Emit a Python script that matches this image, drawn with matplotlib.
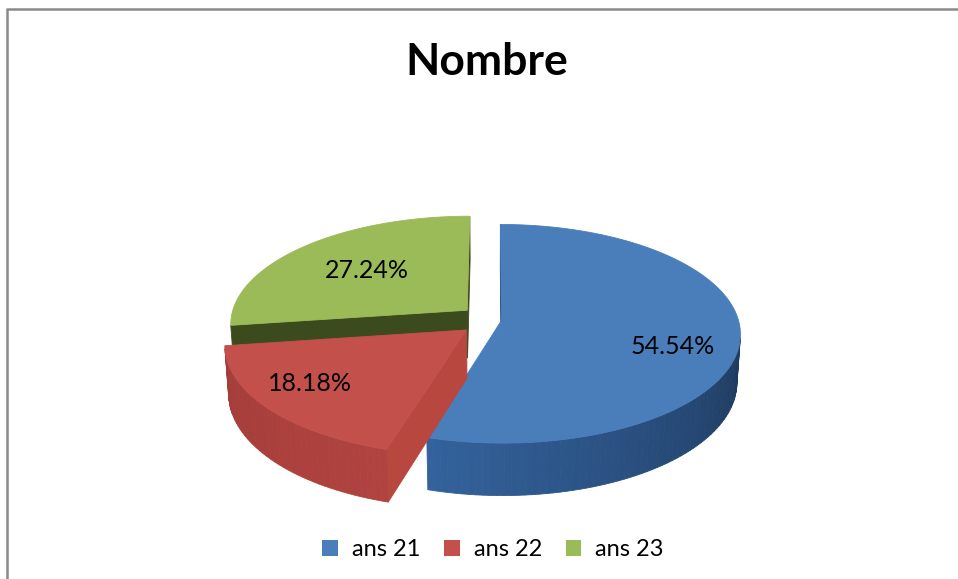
import numpy as np
import matplotlib
matplotlib.use('Agg')
import matplotlib.pyplot as plt
from matplotlib.patches import Polygon, Patch
from matplotlib.colors import to_rgb

title = 'Nombre'
labels = ['ans 21', 'ans 22', 'ans 23']
values = [54.54, 18.18, 27.24]

top_colors = ['#4A7EBB', '#C4504C', '#9BBB59']
side_light = ['#33629C', '#A43C39', '#55692B']
side_dark = ['#1E3A5E', '#B0433F', '#3E4F1F']
cut_colors = ['#28497A', '#B7473F', '#3C4B1E']
explode = [0.04, 0.14, 0.14]
# where the percent labels sit on each top face
label_r = [0.72, 0.8, 0.6]
label_dy = [15, -8, 0]

# fake 3d camera, in pixel units of the 958x579 figure
CX, CY = 492, 320
S = 237
D = 7.4
PHI = np.radians(27)
H = 0.23
FONT = 'Lato'


def proj(X, Y, Z):
    X = np.asarray(X, float)
    Y = np.asarray(Y, float)
    Z = np.asarray(Z, float)
    dist = D + Y * np.cos(PHI) - Z * np.sin(PHI)
    s = D / dist
    return np.column_stack([CX + S * X * s, CY - S * (Y * np.sin(PHI) + Z * np.cos(PHI)) * s])


def area(p):
    x, y = p[:, 0], -p[:, 1]
    return 0.5 * np.sum(x * np.roll(y, -1) - np.roll(x, -1) * y)


def lerp(c1, c2, t):
    a, b = np.array(to_rgb(c1)), np.array(to_rgb(c2))
    return a + (b - a) * t


fig = plt.figure(figsize=(9.58, 5.79), dpi=100)
ax = fig.add_axes([0, 0, 1, 1])
ax.set_xlim(0, 958)
ax.set_ylim(579, 0)
ax.axis('off')

total = sum(values)
cum = np.concatenate([[0], np.cumsum(values)])
slices = []
for i, v in enumerate(values):
    a1 = np.radians(90 - cum[i] / total * 360)
    a0 = np.radians(90 - cum[i + 1] / total * 360)
    mid = (a0 + a1) / 2
    slices.append((i, a0, a1, mid))

# back slices first
slices.sort(key=lambda s: -np.sin(s[3]))

for i, a0, a1, mid in slices:
    ox, oy = explode[i] * np.cos(mid), explode[i] * np.sin(mid)
    n = max(int(np.degrees(a1 - a0) / 1.5), 4)
    th = np.linspace(a0, a1, n)
    ex, ey = ox + np.cos(th), oy + np.sin(th)

    # radial cut faces
    f1 = proj([ox, ox + np.cos(a1), ox + np.cos(a1), ox],
              [oy, oy + np.sin(a1), oy + np.sin(a1), oy], [0, 0, -H, -H])
    f0 = proj([ox, ox, ox + np.cos(a0), ox + np.cos(a0)],
              [oy, oy, oy + np.sin(a0), oy + np.sin(a0)], [0, -H, -H, 0])
    for f in (f0, f1):
        if area(f) > 0:
            ax.add_patch(Polygon(f, closed=True, fc=cut_colors[i], ec=cut_colors[i], lw=0.6))

    # outer wall, drawn in strips for the shading
    strips = []
    for k in range(n - 1):
        q = proj([ex[k], ex[k], ex[k + 1], ex[k + 1]],
                 [ey[k], ey[k], ey[k + 1], ey[k + 1]], [0, -H, -H, 0])
        if area(q) > 0:
            strips.append(q)
    for k, q in enumerate(strips):
        t = k / max(len(strips) - 1, 1)
        c = lerp(side_light[i], side_dark[i], t)
        ax.add_patch(Polygon(q, closed=True, fc=c, ec=c, lw=0.6))

    top = proj(np.r_[ox, ex], np.r_[oy, ey], np.zeros(n + 1))
    ax.add_patch(Polygon(top, closed=True, fc=top_colors[i], ec=top_colors[i], lw=0.6))

    r = label_r[i]
    lp = proj([ox + r * np.cos(mid)], [oy + r * np.sin(mid)], [0])[0]
    ax.text(lp[0], lp[1] + label_dy[i], f'{values[i]:.2f}%', ha='center', va='center',
            fontsize=18, family=FONT, color='black')

ax.text(487, 75, title, ha='center', va='baseline', fontsize=32,
        fontweight='bold', family=FONT)

# chart frame
ax.plot([6, 958], [9, 9], color='#8a8a8a', lw=1.8, solid_capstyle='butt')
ax.plot([7.5, 7.5], [9, 579], color='#8a8a8a', lw=1.8, solid_capstyle='butt')

handles = [Patch(facecolor=c, edgecolor='none') for c in top_colors]
fig.legend(handles, labels, loc='center', bbox_to_anchor=(493 / 958, 1 - 550 / 579),
           ncol=3, frameon=False, prop={'family': FONT, 'size': 17},
           handlelength=0.66, handleheight=0.66, handletextpad=0.6,
           columnspacing=1.0)

fig.savefig('out.png', dpi=100)
